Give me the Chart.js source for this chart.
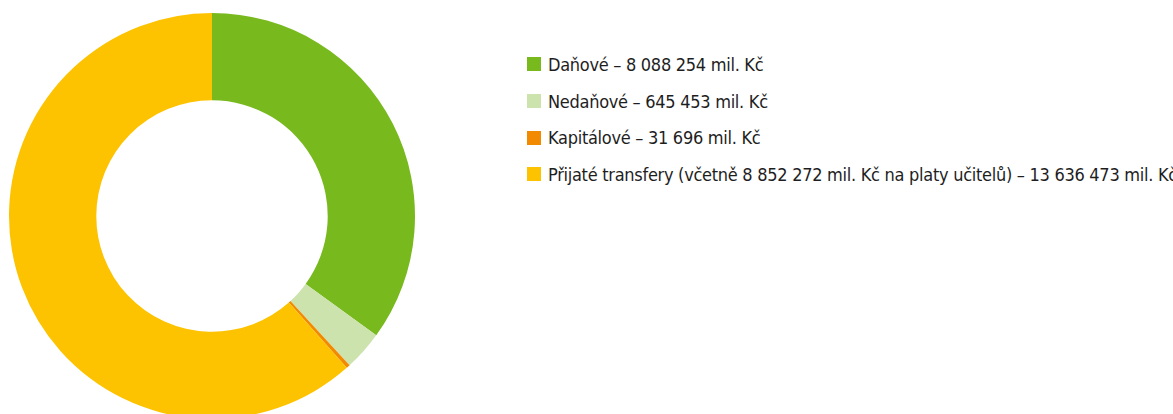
<!DOCTYPE html>
<html lang="cs">
<head>
<meta charset="utf-8">
<script src="https://cdn.jsdelivr.net/npm/chart.js@4/dist/chart.umd.min.js"></script>
<style>
  html, body { margin: 0; padding: 0; background: #fff; overflow: hidden; }
  #wrap { position: relative; width: 1173px; height: 414px; }
  #donut { position: absolute; left: 0; top: 0; width: 424px; height: 432px; }
  #legend { position: absolute; left: 527px; top: 46px; font-family: "DejaVu Sans Condensed", "DejaVu Sans", sans-serif; font-stretch: condensed; font-size: 18px; letter-spacing: -0.28px; color: #1e1e1e; }
  #legend ul { list-style: none; margin: 0; padding: 0; }
  #legend li { display: flex; align-items: center; height: 36.7px; white-space: nowrap; }
  #legend li span.box { display: inline-block; width: 14px; height: 14px; margin-right: 7px; }
</style>
</head>
<body>
<div id="wrap">
  <div id="donut"><canvas id="revenueChart"></canvas></div>
  <div id="legend"></div>
</div>
<script>
// Příjmy – popisky legendy
const labels = [
  'Daňové – 8 088 254 mil. Kč',
  'Nedaňové – 645 453 mil. Kč',
  'Kapitálové – 31 696 mil. Kč',
  'Přijaté transfery (včetně 8 852 272 mil. Kč na platy učitelů) – 13 636 473 mil. Kč'
];
// podíly výsečí v %
const shares = [35.0, 3.15, 0.3, 61.55];
const colors = ['#78b91e', '#cde3ae', '#f18a00', '#fdc300'];

// Legenda v HTML, generovaná z grafu
const htmlLegend = {
  id: 'htmlLegend',
  afterUpdate(chart) {
    const box = document.getElementById('legend');
    box.innerHTML = '';
    const ul = document.createElement('ul');
    chart.options.plugins.legend.labels.generateLabels(chart).forEach(item => {
      const li = document.createElement('li');
      const sq = document.createElement('span');
      sq.className = 'box';
      sq.style.background = item.fillStyle;
      const txt = document.createElement('span');
      txt.textContent = item.text;
      li.appendChild(sq);
      li.appendChild(txt);
      ul.appendChild(li);
    });
    box.appendChild(ul);
  }
};

const ctx = document.getElementById('revenueChart').getContext('2d');
const chart = new Chart(ctx, {
  type: 'doughnut',
  data: {
    labels: labels,
    datasets: [{
      data: shares,
      backgroundColor: colors,
      borderWidth: 0,
    }],
  },
  options: {
    responsive: true,
    maintainAspectRatio: false,
    animation: false,
    cutout: '57%',
    layout: { padding: { left: 9, right: 9, top: 13, bottom: 13 } },
    plugins: {
      legend: { display: false },
      tooltip: { enabled: false },
    },
  },
  plugins: [htmlLegend],
});
</script>
</body>
</html>
